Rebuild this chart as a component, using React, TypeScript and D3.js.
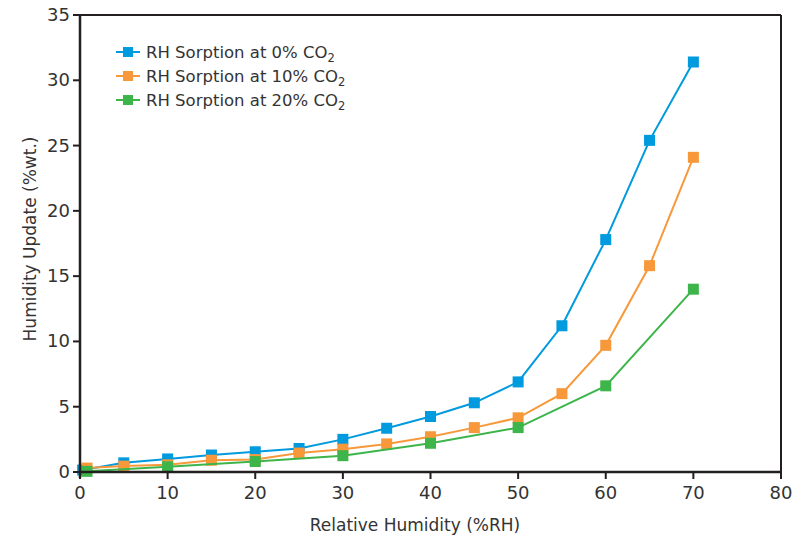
import React from 'react';
import * as d3 from 'd3';

// Data.
const rhFine = [5, 10, 15, 20, 25, 30, 35, 40, 45, 50, 55, 60, 65, 70];
const co2At0 = [0.7, 1.0, 1.3, 1.55, 1.8, 2.5, 3.35, 4.25, 5.3, 6.9, 11.2, 17.8, 25.4, 31.4];
const co2At10 = [0.45, 0.55, 0.9, 0.95, 1.45, 1.75, 2.15, 2.7, 3.4, 4.15, 6.0, 9.7, 15.8, 24.1];
const rhCoarse = [10, 20, 30, 40, 50, 60, 70];
const co2At20 = [0.4, 0.8, 1.25, 2.2, 3.4, 6.6, 14.0];

const xTicks = [0, 10, 20, 30, 40, 50, 60, 70, 80];
const yTicks = [0, 5, 10, 15, 20, 25, 30, 35];

const series = [
  { name: '0%', color: '#009ADE', xs: [0.3, ...rhFine], ys: [0.15, ...co2At0] },
  { name: '10%', color: '#F7993B', xs: [0.8, ...rhFine], ys: [0.3, ...co2At10] },
  { name: '20%', color: '#3DB54A', xs: [0.8, ...rhCoarse], ys: [0.05, ...co2At20] },
];

const W = 808;
const H = 540;
const left = 80;
const right = 781;
const top = 15;
const bottom = 472;
const font = '"DejaVu Sans", Lato, sans-serif';
const ink = '#231F20';
const textColor = '#333';

export default function App() {
  const x = d3.scaleLinear().domain([0, 80]).range([left, right]);
  const y = d3.scaleLinear().domain([0, 35]).range([bottom, top]);
  const line = d3
    .line<[number, number]>()
    .x((d) => x(d[0]))
    .y((d) => y(d[1]));
  const m = 11;

  return (
    <svg
      width={W}
      height={H}
      style={{ position: 'absolute', left: 0, top: 0, background: '#fff' }}
      fontFamily={font}
    >
      <rect x={0} y={0} width={W} height={H} fill="#fff" />
      {/* frame */}
      <line x1={left} x2={right} y1={top} y2={top} stroke={ink} strokeWidth={2} />
      <line x1={right} x2={right} y1={top} y2={bottom} stroke={ink} strokeWidth={2} />

      {/* series */}
      {series.map((s) => {
        const pts = s.xs.map((v, i) => [v, s.ys[i]] as [number, number]);
        return (
          <g key={s.name}>
            <path d={line(pts) ?? ''} fill="none" stroke={s.color} strokeWidth={2} />
            {pts.map((p, i) => (
              <rect
                key={i}
                x={x(p[0]) - m / 2}
                y={y(p[1]) - m / 2}
                width={m}
                height={m}
                fill={s.color}
              />
            ))}
          </g>
        );
      })}

      {/* axes */}
      <line x1={left} x2={right} y1={bottom} y2={bottom} stroke={ink} strokeWidth={2.5} />
      <line x1={left} x2={left} y1={top} y2={bottom + 6} stroke={ink} strokeWidth={2.5} />
      {xTicks.map((t) => (
        <g key={t}>
          <line x1={x(t)} x2={x(t)} y1={bottom} y2={bottom + 7} stroke={ink} strokeWidth={2} />
          <text x={x(t)} y={bottom + 27} textAnchor="middle" fontSize={18} fill={textColor}>
            {t}
          </text>
        </g>
      ))}
      {yTicks.map((t) => (
        <g key={t}>
          <line x1={left - 7} x2={left} y1={y(t)} y2={y(t)} stroke={ink} strokeWidth={2} />
          <text x={left - 10} y={y(t) + 6} textAnchor="end" fontSize={18} fill={textColor}>
            {t}
          </text>
        </g>
      ))}

      <text x={415} y={531} textAnchor="middle" fontSize={17} fill={textColor}>
        Relative Humidity (%RH)
      </text>
      <text
        transform={`translate(36,239) rotate(-90)`}
        textAnchor="middle"
        fontSize={17}
        fill={textColor}
      >
        Humidity Update (%wt.)
      </text>

      {/* legend */}
      {series.map((s, i) => {
        const ly = 52 + i * 24;
        return (
          <g key={s.name}>
            <line x1={116} x2={140} y1={ly} y2={ly} stroke={s.color} strokeWidth={2} />
            <rect x={123} y={ly - 5} width={10} height={10} fill={s.color} />
            <text x={146} y={ly + 6} fontSize={16.5} fill={textColor}>
              {`RH Sorption at ${s.name} CO`}
              <tspan fontSize={11.5} dy={4}>2</tspan>
            </text>
          </g>
        );
      })}
    </svg>
  );
}
